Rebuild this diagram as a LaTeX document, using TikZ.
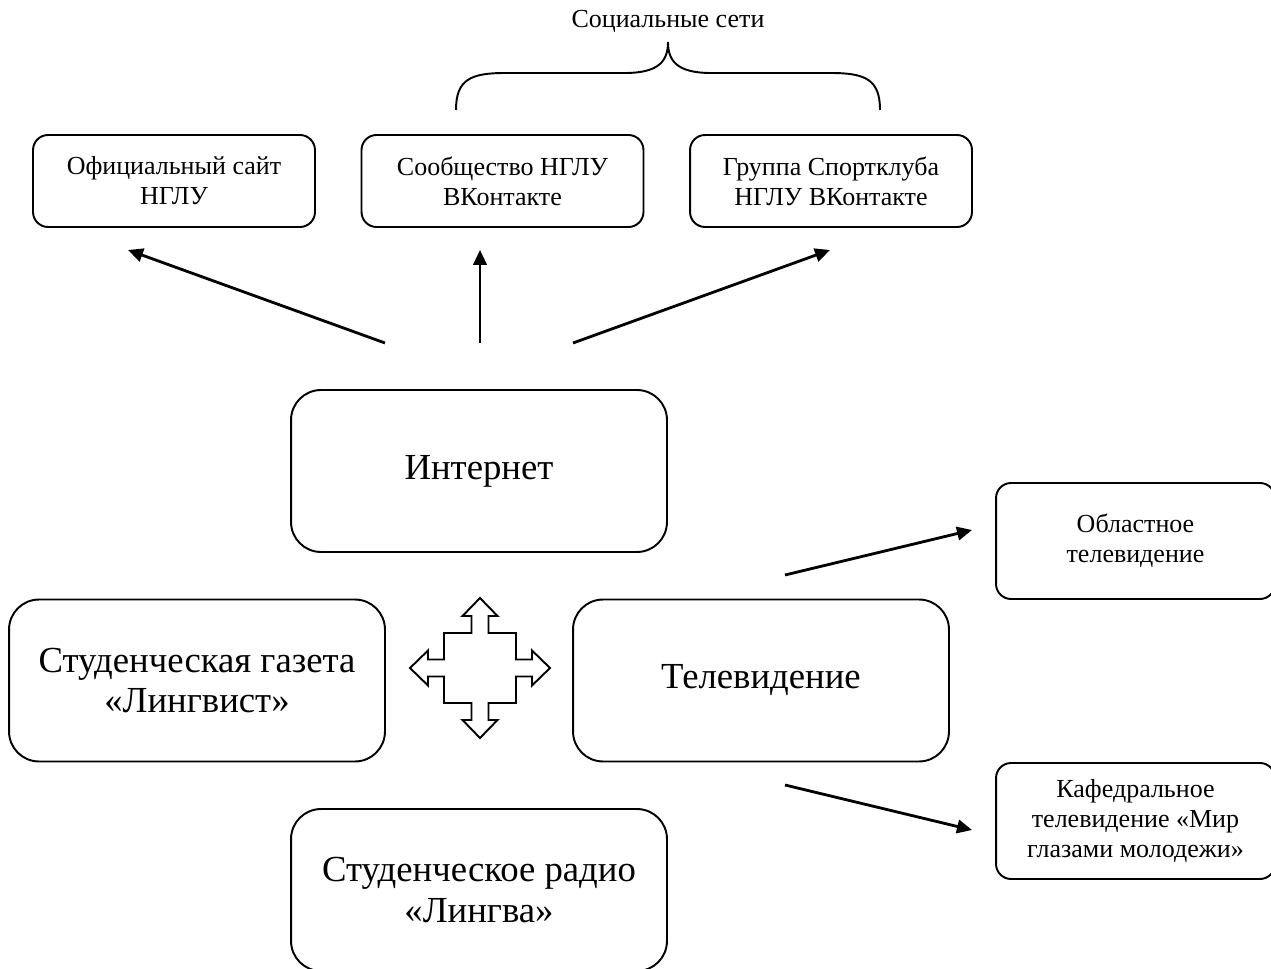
\documentclass[tikz,border=0pt]{standalone}
\usepackage{fontspec}
\setmainfont{Liberation Serif}
\usetikzlibrary{arrows.meta,positioning}

\begin{document}
\begin{tikzpicture}[x=0.02cm, y=-0.02cm, >={Triangle[length=3mm,width=2.7mm]},
    smallbox/.style={draw, rectangle, rounded corners=0.3cm, line width=1.1pt, minimum width=5.64cm, minimum height=1.84cm, inner sep=0pt, align=center, font=\fontsize{14.8}{17}\selectfont},
    sidebox/.style={smallbox, minimum width=5.58cm, minimum height=2.32cm},
    bigbox/.style={draw, rectangle, rounded corners=0.6cm, line width=1.1pt, minimum width=7.52cm, minimum height=3.24cm, inner sep=0pt, align=center, font=\fontsize{20.9}{23}\selectfont},
    link/.style={->, line width=1.6pt}]
    \useasboundingbox (0,0) rectangle (1271,969);

    % top row
    \node[smallbox] (site) at (174,181) {Официальный сайт\\НГЛУ};
    \node[smallbox] (vkgroup) at (502.5,181) {Сообщество НГЛУ\\ВКонтакте};
    \node[smallbox] (sportclub) at (831,181) {Группа Спортклуба\\НГЛУ ВКонтакте};

    % main boxes
    \node[bigbox] (internet) at (479,471) {Интернет};
    \node[bigbox] (gazeta) at (197,680.5) {Студенческая газета\\«Лингвист»};
    \node[bigbox] (tv) at (761,680.5) {Телевидение};
    \node[bigbox] (radio) at (479,890) {Студенческое радио\\«Лингва»};

    % right column
    \node[sidebox] (regtv) at (1135.5,541) {Областное\\телевидение};
    \node[sidebox] (deptv) at (1135.5,821) {Кафедральное\\телевидение «Мир\\глазами молодежи»};

    % social networks brace
    \node[font=\fontsize{14.8}{17}\selectfont] (social) at (668,21) {Социальные сети};
    \draw[line width=1.1pt] (456,110) .. controls (456,80) and (470,73) .. (505,73) -- (625,73)
        .. controls (660,73) and (668,60) .. (668,42) .. controls (668,60) and (676,73) .. (711,73) -- (831,73)
        .. controls (866,73) and (880,80) .. (880,110);

    % arrows from internet
    \coordinate (inL) at (385,343);
    \coordinate (inM) at (480,343);
    \coordinate (inR) at (573,343);
    \coordinate (siteEnd) at (128,250);
    \coordinate (vkEnd) at (480,250);
    \coordinate (sportEnd) at (830,250);
    \draw[link] (inL) -- (siteEnd);
    \draw[link] (inM) -- (vkEnd);
    \draw[link] (inR) -- (sportEnd);

    % arrows from tv
    \coordinate (tvUp) at (785,575);
    \coordinate (tvDown) at (785,785);
    \coordinate (regEnd) at (972,530);
    \coordinate (depEnd) at (972,830);
    \draw[link] (tvUp) -- (regEnd);
    \draw[link] (tvDown) -- (depEnd);

    % four-way arrow
    \begin{scope}[shift={(480,668)}]
        \draw[line width=1.1pt] (-8.5,-35) -- (-8.5,-52) -- (-17.5,-52) -- (0,-70) -- (17.5,-52) -- (8.5,-52) -- (8.5,-35)
            -- (36,-35) -- (36,-8.5) -- (52,-8.5) -- (52,-17.5) -- (70,0) -- (52,17.5) -- (52,8.5) -- (36,8.5)
            -- (36,35) -- (8.5,35) -- (8.5,52) -- (17.5,52) -- (0,70) -- (-17.5,52) -- (-8.5,52) -- (-8.5,35)
            -- (-36,35) -- (-36,8.5) -- (-52,8.5) -- (-52,17.5) -- (-70,0) -- (-52,-17.5) -- (-52,-8.5) -- (-36,-8.5)
            -- (-36,-35) -- cycle;
    \end{scope}
\end{tikzpicture}
\end{document}
